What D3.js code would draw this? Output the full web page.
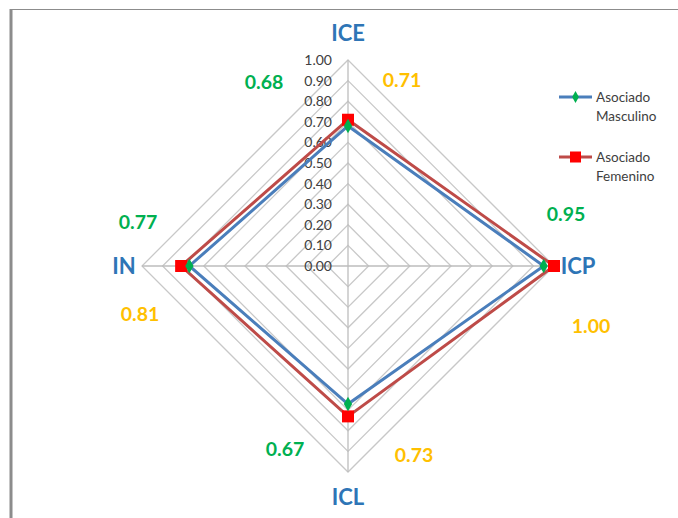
<!DOCTYPE html>
<html>
<head>
<meta charset="utf-8">
<script src="https://cdn.jsdelivr.net/npm/d3@7"></script>
<style>
  body { margin: 0; background: #fff; }
  svg { display: block; }
</style>
</head>
<body>
<svg id="chart" width="678" height="518"></svg>
<script>
var width = 678;
var height = 518;

// data
var axes = ["ICE", "ICP", "ICL", "IN"];
var masculino = [0.68, 0.95, 0.67, 0.77];
var femenino = [0.71, 1.00, 0.73, 0.81];
var ticks = [0, 0.1, 0.2, 0.3, 0.4, 0.5, 0.6, 0.7, 0.8, 0.9, 1.0];
var seriesNames = [["Asociado", "Masculino"], ["Asociado", "Femenino"]];

var cx = 348, cy = 266, R = 206;
var svg = d3.select("#chart");

// frame
svg.append("line").attr("x1", 10).attr("x2", width).attr("y1", 9.5).attr("y2", 9.5)
    .attr("stroke", "#8c8c8c").attr("stroke-width", 1);
svg.append("line").attr("x1", 11).attr("x2", 11).attr("y1", 9).attr("y2", height)
    .attr("stroke", "#8c8c8c").attr("stroke-width", 3);

var r = d3.scaleLinear().domain([0, 1]).range([0, R]);
// angle: ICE up, ICP right, ICL down, IN left
var angle = function(i) { return i * Math.PI / 2; };
function pt(i, v) {
    return [cx + r(v) * Math.sin(angle(i)), cy - r(v) * Math.cos(angle(i))];
}

var g = svg.append("g");

// grid diamonds
g.selectAll("polygon.grid")
    .data(ticks.slice(1))
    .enter().append("polygon")
    .attr("class", "grid")
    .attr("points", function(t) {
        return axes.map(function(a, i) { return pt(i, t).join(","); }).join(" ");
    })
    .attr("fill", "none")
    .attr("stroke", "#c8c8c8")
    .attr("stroke-width", 1.3);

// spokes
g.selectAll("line.spoke")
    .data(axes)
    .enter().append("line")
    .attr("x1", cx).attr("y1", cy)
    .attr("x2", function(d, i) { return pt(i, 1)[0]; })
    .attr("y2", function(d, i) { return pt(i, 1)[1]; })
    .attr("stroke", "#bdbdbd")
    .attr("stroke-width", 1.3);

// tick labels
g.selectAll("text.tick")
    .data(ticks)
    .enter().append("text")
    .attr("x", cx - 16)
    .attr("y", function(t) { return cy - r(t) + 5; })
    .attr("text-anchor", "end")
    .attr("font-family", "Lato, 'Open Sans', sans-serif")
    .attr("font-size", 14)
    .attr("fill", "#404040")
    .text(function(t) { return t.toFixed(2); });

var line = d3.line();

function drawSeries(values, color) {
    var pts = values.map(function(v, i) { return pt(i, v); });
    pts.push(pts[0]);
    g.append("path")
        .attr("d", line(pts))
        .attr("fill", "none")
        .attr("stroke", color)
        .attr("stroke-width", 3)
        .attr("stroke-linejoin", "miter");
}
drawSeries(femenino, "#be4b48");
drawSeries(masculino, "#4a7ebb");

// markers
g.selectAll("rect.fem")
    .data(femenino)
    .enter().append("rect")
    .attr("x", function(v, i) { return pt(i, v)[0] - 6; })
    .attr("y", function(v, i) { return pt(i, v)[1] - 6; })
    .attr("width", 12).attr("height", 12)
    .attr("fill", "#ff0000");

var diamond = d3.symbol().type(d3.symbolDiamond).size(60);
g.selectAll("path.masc")
    .data(masculino)
    .enter().append("path")
    .attr("d", diamond)
    .attr("transform", function(v, i) { return "translate(" + pt(i, v).join(",") + ")"; })
    .attr("fill", "#00b050");

// axis titles
var titlePos = [[348, 41], [578, 274], [348, 505], [124, 274]];
svg.selectAll("text.axis")
    .data(axes)
    .enter().append("text")
    .attr("x", function(d, i) { return titlePos[i][0]; })
    .attr("y", function(d, i) { return titlePos[i][1]; })
    .attr("text-anchor", "middle")
    .attr("font-family", "Lato, 'Open Sans', sans-serif")
    .attr("font-weight", "bold")
    .attr("font-size", 22)
    .attr("fill", "#2e75b6")
    .text(function(d) { return d; });

// value labels
var mascPos = [[264, 89], [566, 221], [285, 456], [138, 229]];
var femPos = [[402, 87], [591, 333], [414, 462], [140, 321]];
function valueLabels(values, pos, color) {
    svg.selectAll(null)
        .data(values)
        .enter().append("text")
        .attr("x", function(d, i) { return pos[i][0]; })
        .attr("y", function(d, i) { return pos[i][1]; })
        .attr("text-anchor", "middle")
        .attr("font-family", "Lato, 'Open Sans', sans-serif")
        .attr("font-weight", "bold")
        .attr("font-size", 19.5)
        .attr("fill", color)
        .text(function(d) { return d.toFixed(2); });
}
valueLabels(masculino, mascPos, "#00b050");
valueLabels(femenino, femPos, "#ffc000");

// legend
var legend = svg.append("g").attr("transform", "translate(559,97)");
var items = legend.selectAll("g.item")
    .data(seriesNames)
    .enter().append("g")
    .attr("transform", function(d, i) { return "translate(0," + (i * 60) + ")"; });
items.append("line")
    .attr("x1", 0).attr("x2", 33).attr("y1", 0).attr("y2", 0)
    .attr("stroke", function(d, i) { return i === 0 ? "#4a7ebb" : "#be4b48"; })
    .attr("stroke-width", 3);
items.filter(function(d, i) { return i === 0; })
    .append("path").attr("d", d3.symbol().type(d3.symbolDiamond).size(40))
    .attr("transform", "translate(16.5,0)").attr("fill", "#00b050");
items.filter(function(d, i) { return i === 1; })
    .append("rect").attr("x", 11).attr("y", -5.5).attr("width", 11).attr("height", 11)
    .attr("fill", "#ff0000");
items.append("text")
    .attr("x", 37).attr("y", 5)
    .attr("font-family", "Lato, 'Open Sans', sans-serif")
    .attr("font-size", 13.5)
    .attr("fill", "#404040")
    .selectAll("tspan")
    .data(function(d) { return d; })
    .enter().append("tspan")
    .attr("x", 37)
    .attr("dy", function(d, i) { return i === 0 ? 0 : 19; })
    .text(function(d) { return d; });
</script>
</body>
</html>
